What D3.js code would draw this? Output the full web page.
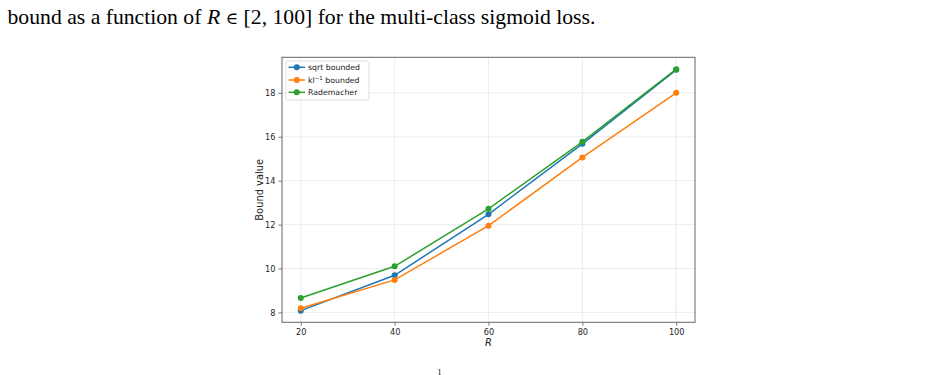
<!DOCTYPE html>
<html>
<head>
<meta charset="utf-8">
<script src="https://cdn.jsdelivr.net/npm/d3@7"></script>
<style>
  body { margin: 0; background: #fff; }
  svg { display: block; }
  .tick text { font-family: "DejaVu Sans", sans-serif; font-size: 8.2px; fill: #262626; }
</style>
</head>
<body>
<div id="chart"></div>
<script>
// data
var rValues = [20, 40, 60, 80, 100];
var sqrtBounded = [8.08, 9.69, 12.47, 15.68, 19.05];
var klBounded = [8.19, 9.48, 11.95, 15.06, 18.0];
var rademacher = [8.66, 10.10, 12.72, 15.77, 19.08];
var xTicks = [20, 40, 60, 80, 100];
var yTicks = [8, 10, 12, 14, 16, 18];

var series = [
  {name: "sqrt", values: sqrtBounded, color: "#1f77b4"},
  {name: "kl", values: klBounded, color: "#ff7f0e"},
  {name: "Rademacher", values: rademacher, color: "#2ca02c"}
];

var W = 943, H = 375;
var box = {left: 282, right: 695, top: 57.3, bottom: 322.3};

var svg = d3.select("#chart").append("svg")
  .attr("width", W).attr("height", H);

svg.append("rect").attr("width", W).attr("height", H).attr("fill", "#fff");

// caption line above the figure
var cap = svg.append("text")
  .attr("x", 7.5).attr("y", 24)
  .style("font-family", "'Liberation Serif', 'Times New Roman', serif")
  .style("font-size", "21.7px")
  .attr("fill", "#000");
cap.append("tspan").text("bound as a function of ");
cap.append("tspan").style("font-style", "italic").text("R");
cap.append("tspan").text(" ");
cap.append("tspan").style("font-family", "'DejaVu Serif', serif").style("font-size", "17px").text("∈");
cap.append("tspan").text(" [2, 100] for the multi-class sigmoid loss.");

var x = d3.scaleLinear().domain([16, 104]).range([box.left, box.right]);
var y = d3.scaleLinear().domain([7.55, 19.62]).range([box.bottom, box.top]);

// grid
var grid = svg.append("g");
grid.selectAll(".gx").data(xTicks).enter().append("line")
  .attr("x1", d => x(d)).attr("x2", d => x(d))
  .attr("y1", box.top).attr("y2", box.bottom)
  .attr("stroke", "#b0b0b0").attr("stroke-opacity", 0.3).attr("stroke-width", 0.8);
grid.selectAll(".gy").data(yTicks).enter().append("line")
  .attr("y1", d => y(d)).attr("y2", d => y(d))
  .attr("x1", box.left).attr("x2", box.right)
  .attr("stroke", "#b0b0b0").attr("stroke-opacity", 0.3).attr("stroke-width", 0.8);

// axes
var xAxis = svg.append("g")
  .attr("transform", "translate(0," + box.bottom + ")")
  .call(d3.axisBottom(x).tickValues(xTicks).tickSize(3.5).tickPadding(3));
var yAxis = svg.append("g")
  .attr("transform", "translate(" + box.left + ",0)")
  .call(d3.axisLeft(y).tickValues(yTicks).tickSize(3.5).tickPadding(3));
[xAxis, yAxis].forEach(function(a){
  a.select(".domain").remove();
  a.selectAll(".tick line").attr("stroke", "#555").attr("stroke-width", 0.8);
});

// frame
svg.append("rect")
  .attr("x", box.left).attr("y", box.top)
  .attr("width", box.right - box.left).attr("height", box.bottom - box.top)
  .attr("fill", "none").attr("stroke", "#666").attr("stroke-width", 1);

// axis labels
svg.append("text")
  .attr("x", x(60)).attr("y", 345.5)
  .attr("text-anchor", "middle")
  .style("font-family", "'DejaVu Sans', sans-serif").style("font-size", "9.9px")
  .style("font-style", "italic").attr("fill", "#222")
  .text("R");
svg.append("text")
  .attr("transform", "translate(263," + ((box.top + box.bottom) / 2) + ") rotate(-90)")
  .attr("text-anchor", "middle")
  .style("font-family", "'DejaVu Sans', sans-serif").style("font-size", "9.9px")
  .attr("fill", "#222")
  .text("Bound value");

// lines and markers
var line = d3.line().x((d, i) => x(rValues[i])).y(d => y(d));
series.forEach(function(s){
  var g = svg.append("g");
  g.append("path").datum(s.values)
    .attr("d", line).attr("fill", "none")
    .attr("stroke", s.color).attr("stroke-width", 1.5);
  g.selectAll("circle").data(s.values).enter().append("circle")
    .attr("cx", (d, i) => x(rValues[i])).attr("cy", d => y(d))
    .attr("r", 3).attr("fill", s.color);
});

// legend
var leg = svg.append("g");
leg.append("rect")
  .attr("x", 286).attr("y", 61).attr("width", 83).attr("height", 39)
  .attr("rx", 2).attr("fill", "#fff").attr("fill-opacity", 0.8)
  .attr("stroke", "#d6d6d6").attr("stroke-width", 0.8);
var legY = [67.3, 80, 92.3];
series.forEach(function(s, i){
  leg.append("line")
    .attr("x1", 288.5).attr("x2", 305).attr("y1", legY[i]).attr("y2", legY[i])
    .attr("stroke", s.color).attr("stroke-width", 1.5);
  leg.append("circle").attr("cx", 296.8).attr("cy", legY[i]).attr("r", 3).attr("fill", s.color);
  var t = leg.append("text")
    .attr("x", 308).attr("y", legY[i] + 2.8)
    .style("font-family", "'DejaVu Sans', sans-serif").style("font-size", "7.8px")
    .attr("fill", "#222");
  if (s.name === "sqrt") t.text("sqrt bounded");
  else if (s.name === "kl") {
    t.append("tspan").text("kl");
    t.append("tspan").attr("dy", -2.8).style("font-size", "5.5px").text("−1");
    t.append("tspan").attr("dy", 2.8).text(" bounded");
  } else t.text("Rademacher");
});

// fragment of the next caption at the bottom edge
svg.append("text")
  .attr("x", 437.5).attr("y", 374.5)
  .style("font-family", "'Liberation Serif', serif").style("font-size", "8px")
  .attr("fill", "#000").text("1");
</script>
</body>
</html>
